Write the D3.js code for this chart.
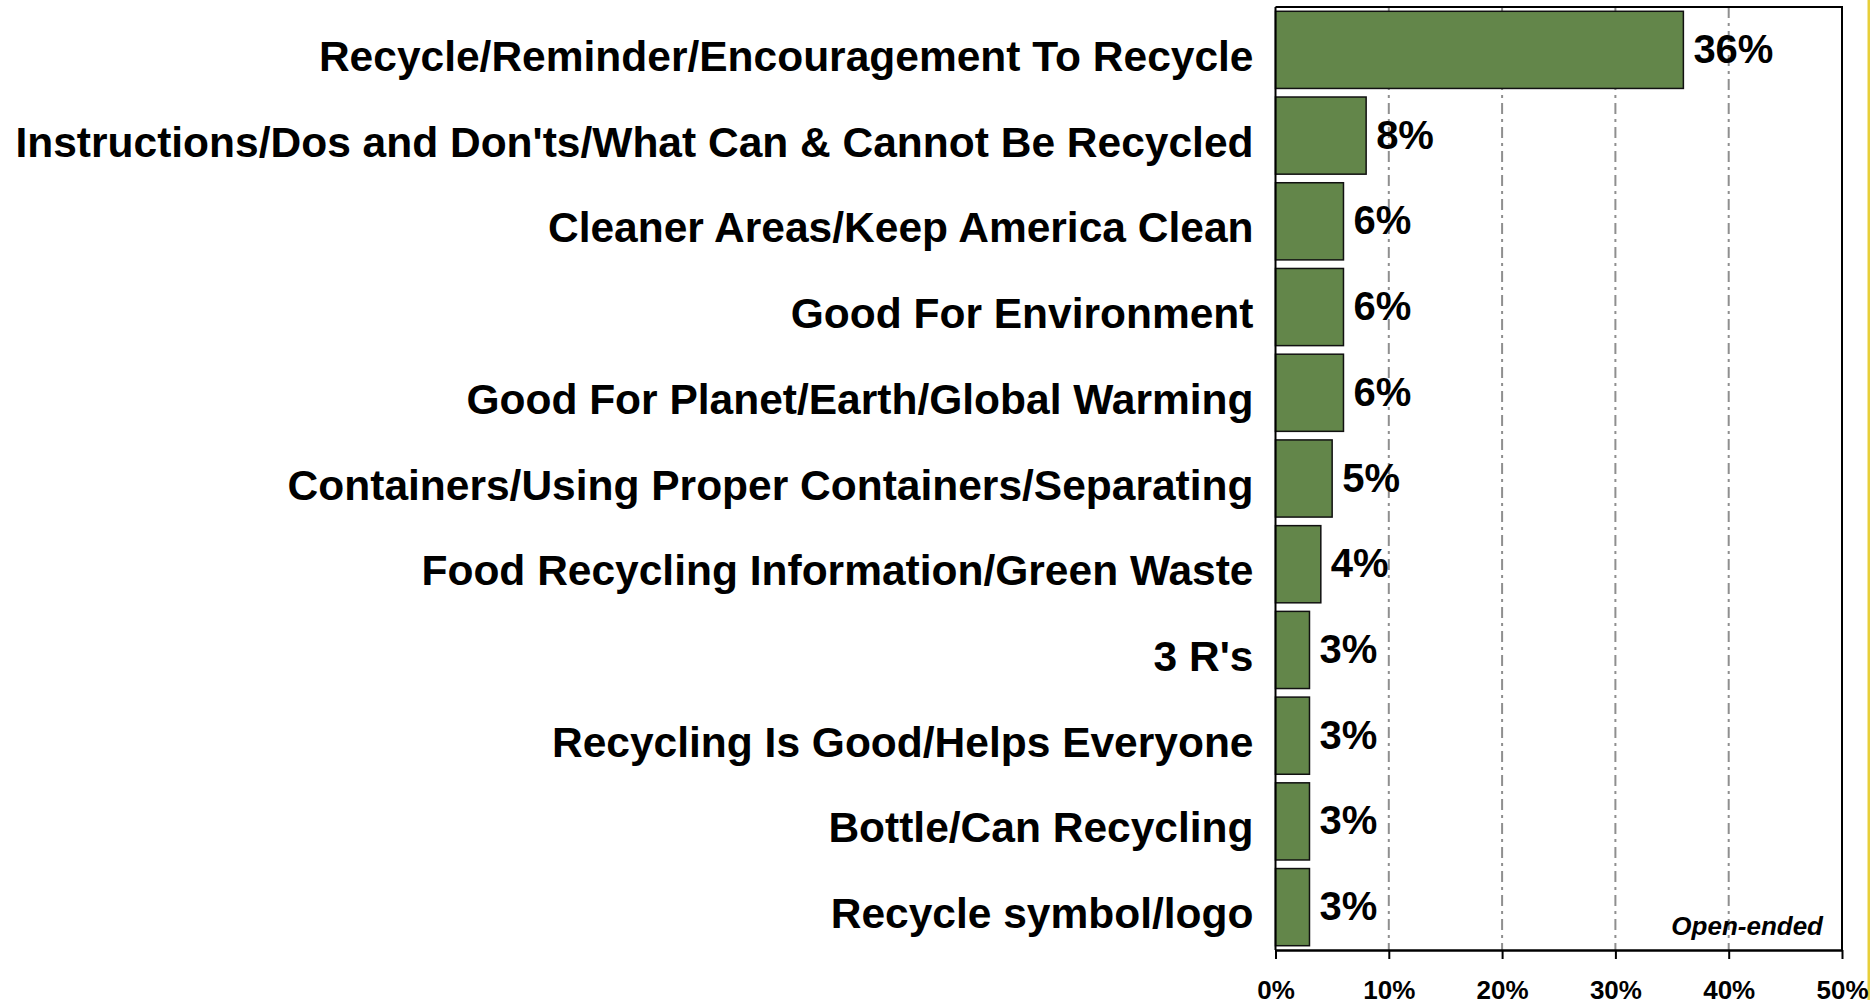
<!DOCTYPE html>
<html>
<head>
<meta charset="utf-8">
<script src="https://cdn.jsdelivr.net/npm/d3@7"></script>
<style>
body { margin: 0; background: #fff; }
svg { display: block; font-family: "Liberation Sans", Arial, sans-serif; }
</style>
</head>
<body>
<svg id="chart" width="1871" height="1000"></svg>
<script>
// categories, top to bottom
var categories = [
  "Recycle/Reminder/Encouragement To Recycle",
  "Instructions/Dos and Don'ts/What Can & Cannot Be Recycled",
  "Cleaner Areas/Keep America Clean",
  "Good For Environment",
  "Good For Planet/Earth/Global Warming",
  "Containers/Using Proper Containers/Separating",
  "Food Recycling Information/Green Waste",
  "3 R's",
  "Recycling Is Good/Helps Everyone",
  "Bottle/Can Recycling",
  "Recycle symbol/logo"
];
var values = [36, 8, 6, 6, 6, 5, 4, 3, 3, 3, 3];// percent
var xTicks = [0, 10, 20, 30, 40, 50];
var note = "Open-ended";

var svg = d3.select("#chart");
var plotLeft = 1275.5, plotRight = 1842, plotTop = 7, plotBottom = 950;

var x = d3.scaleLinear().domain([0, 50]).range([plotLeft, plotRight]);
var y = d3.scaleBand()
  .domain(categories)
  .range([plotTop, plotBottom])
  .paddingInner(0.1)
  .paddingOuter(0.05);

// yellow strip at the right edge
svg.append("rect")
  .attr("x", 1867.5).attr("y", 0)
  .attr("width", 2.5).attr("height", 1000)
  .attr("fill", "#e8cf3a");

// gridlines (behind bars)
svg.append("g")
  .selectAll("line")
  .data(xTicks.slice(1))
  .enter().append("line")
  .attr("x1", function(d) { return x(d); })
  .attr("x2", function(d) { return x(d); })
  .attr("y1", plotTop)
  .attr("y2", plotBottom)
  .attr("stroke", "#8f8f8f")
  .attr("stroke-width", 2)
  .attr("stroke-dasharray", "11,5,3,5");

// frame top + right
svg.append("path")
  .attr("d", "M" + plotLeft + "," + plotTop + "H" + plotRight + "V" + plotBottom)
  .attr("fill", "none")
  .attr("stroke", "#000")
  .attr("stroke-width", 2);

// bars
svg.append("g")
  .selectAll("rect")
  .data(values)
  .enter().append("rect")
  .attr("x", x(0))
  .attr("y", function(d, i) { return y(categories[i]); })
  .attr("width", function(d) { return x(d) - x(0); })
  .attr("height", y.bandwidth())
  .attr("fill", "#63864a")
  .attr("stroke", "#111")
  .attr("stroke-width", 1.5);

// value labels
svg.append("g")
  .selectAll("text")
  .data(values)
  .enter().append("text")
  .attr("x", function(d) { return x(d) + 10; })
  .attr("y", function(d, i) { return y(categories[i]) + y.bandwidth() / 2 + 13; })
  .attr("font-size", 40)
  .attr("font-weight", "bold")
  .attr("fill", "#000")
  .text(function(d) { return d + "%"; });

// category labels
svg.append("g")
  .selectAll("text")
  .data(categories)
  .enter().append("text")
  .attr("x", 1253.5)
  .attr("y", function(d) { return y(d) + y.bandwidth() / 2 + 21; })
  .attr("text-anchor", "end")
  .attr("font-size", 42.5)
  .attr("font-weight", "bold")
  .attr("fill", "#000")
  .text(function(d) { return d; });

// left axis line
svg.append("line")
  .attr("x1", plotLeft).attr("x2", plotLeft)
  .attr("y1", plotTop).attr("y2", plotBottom)
  .attr("stroke", "#000")
  .attr("stroke-width", 2);

// x axis
var xAxis = svg.append("g")
  .attr("transform", "translate(0," + plotBottom + ")")
  .call(d3.axisBottom(x)
    .tickValues(xTicks)
    .tickSize(9)
    .tickSizeOuter(0)
    .tickFormat(function(d) { return d + "%"; }));

xAxis.select(".domain").attr("stroke", "#000").attr("stroke-width", 2.5);
xAxis.selectAll(".tick line").attr("stroke", "#000").attr("stroke-width", 2);
xAxis.selectAll(".tick text")
  .attr("y", 49)
  .attr("dy", 0)
  .attr("font-family", "'Liberation Sans', Arial, sans-serif")
  .attr("font-size", 26)
  .attr("font-weight", "bold")
  .attr("fill", "#000");

// note
svg.append("text")
  .attr("x", 1823)
  .attr("y", 935)
  .attr("text-anchor", "end")
  .attr("font-size", 26)
  .attr("font-weight", "bold")
  .attr("font-style", "italic")
  .attr("fill", "#000")
  .text(note);
</script>
</body>
</html>
